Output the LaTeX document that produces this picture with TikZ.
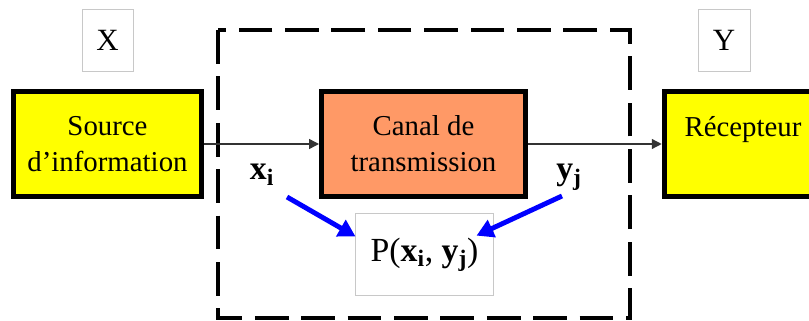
\documentclass[tikz,border=0pt]{standalone}
\usepackage{fontspec}
\setmainfont{Liberation Serif}
\usepackage{amsmath}
\usetikzlibrary{arrows.meta, calc}
\definecolor{Sun}{HTML}{FFFF00}
\definecolor{Salmon}{HTML}{FF9966}
\definecolor{Frame}{HTML}{C8C8C8}
\definecolor{Wire}{HTML}{333333}
\definecolor{Link}{HTML}{0000FF}
\tikzset{
    blockbox/.style={rectangle, draw=black, line width=3.5pt, align=center, inner sep=0pt, font=\fontsize{20.5}{25.5}\selectfont},
    srcbox/.style={blockbox, fill=Sun, minimum width=4.7cm, minimum height=2.625cm},
    canalbox/.style={blockbox, fill=Salmon, minimum width=5.1cm, minimum height=2.625cm},
    recbox/.style={blockbox, fill=Sun, minimum width=3.94cm, minimum height=2.625cm},
    varbox/.style={rectangle, draw=Frame, line width=0.7pt, inner sep=0pt, font=\fontsize{22}{26}\selectfont},
    symb/.style={inner sep=0pt, font=\fontsize{24}{28}\selectfont},
    wire/.style={-{Triangle[length=7pt,width=7pt]}, line width=1pt, color=Wire},
    link/.style={-{Triangle[length=12pt,width=13pt]}, line width=3.5pt, color=Link},
    zone/.style={draw=black, line width=2.8pt, dash pattern=on 24pt off 9pt},
}
\begin{document}
\begin{tikzpicture}[x=0.025cm, y=-0.025cm]
    \useasboundingbox (0,0) rectangle (809,321);
    \draw[zone] (218,30) rectangle (630,318);

    \node[srcbox] (src) at (107.5,144) {Source\\d'information};
    \node[canalbox] (canal) at (423.5,144) {Canal de\\transmission};
    \node[recbox] (rec) at (743,144) {Récepteur\\\mbox{}};

    \node[varbox, minimum width=1.275cm, minimum height=1.525cm] (xvar) at (107.5,40.5) {X};
    \node[varbox, minimum width=1.3cm, minimum height=1.525cm] (yvar) at (724,40.5) {Y};
    \node[varbox, minimum width=3.425cm, minimum height=2.025cm, font=\fontsize{24}{28}\selectfont] (joint) at (424.5,254.5) {P(\textbf{x$_\text{i}$}, \textbf{y$_\text{j}$})};

    \node[symb, anchor=base] (xi) at (262,180) {\textbf{x$_\text{i}$}};
    \node[symb, anchor=base] (yj) at (569,180) {\textbf{y$_\text{j}$}};

    \draw[wire] (src) -- (canal);
    \draw[wire] (canal) -- (rec);
    \draw[link] ([shift={(25,17)}]xi.base) -- ($(joint.north west)!0.28!(joint.south west)$);
    \draw[link] ([shift={(-7,16)}]yj.base) -- ($(joint.north east)!0.27!(joint.south east)+(-17,0)$);
\end{tikzpicture}
\end{document}
